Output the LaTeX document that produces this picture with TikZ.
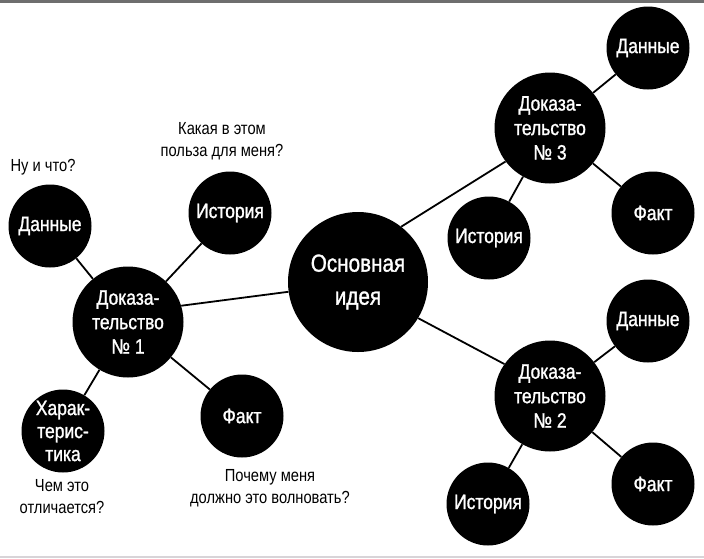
\documentclass[tikz,border=0pt]{standalone}
\usepackage{fontspec}
\setmainfont[FakeStretch=0.84]{Liberation Sans}
\newfontfamily\circfont[FakeStretch=0.84,FakeBold=1.2]{Liberation Sans}
\definecolor{topbar}{HTML}{6E6E6E}
\definecolor{botline}{HTML}{D8D4D8}
\tikzset{
  bigc/.style={circle, fill=black, text=white, minimum size=140pt, inner sep=0pt, align=center, font=\circfont\fontsize{24.6}{33}\selectfont},
  midc/.style={circle, fill=black, text=white, minimum size=111pt, inner sep=0pt, align=center, font=\circfont\fontsize{20.8}{24.5}\selectfont},
  leafc/.style={circle, fill=black, text=white, minimum size=83pt, inner sep=0pt, align=center, font=\circfont\fontsize{20.8}{23}\selectfont},
  lbl/.style={align=center, text=black, inner sep=0pt, font=\fontsize{17.5}{22}\selectfont},
  link/.style={line width=1.8pt, draw=black}
}
\begin{document}
\begin{tikzpicture}[x=1pt, y=-1pt]
\useasboundingbox (0,0) rectangle (704,558);
\fill[topbar] (0,0) rectangle (704,2.5);
\fill[botline] (0,555.5) rectangle (704,558);

% central idea
\node[bigc] (main) at (358,282) {Основная\\идея};

% proof 1
\node[midc] (d1) at (128,322) {Доказа-\\тельство\\№ 1};
\node[leafc] (d1data) at (50,226) {Данные};
\node[leafc] (d1hist) at (230,213) {История};
\node[leafc] (d1char) at (63,431) {Харак-\\терис-\\тика};
\node[leafc] (d1fact) at (242,416) {Факт};

% proof 3
\node[midc] (d3) at (550,128) {Доказа-\\тельство\\№ 3};
\node[leafc] (d3data) at (648,48) {Данные};
\node[leafc] (d3fact) at (653,213) {Факт};
\node[leafc] (d3hist) at (489,238) {История};

% proof 2
\node[midc] (d2) at (550,396) {Доказа-\\тельство\\№ 2};
\node[leafc] (d2data) at (648,321) {Данные};
\node[leafc] (d2fact) at (653,484) {Факт};
\node[leafc] (d2hist) at (488,504) {История};

% questions
\node[lbl] (q1) at (43,167) {Ну и что?};
\node[lbl] (q2) at (222,141) {Какая в этом\\польза для меня?};
\node[lbl] (q3) at (62,497) {Чем это\\отличается?};
\node[lbl] (q4) at (270,488) {Почему меня\\должно это волновать?};

% connectors
\draw[link] (d1.17) -- (main.188);
\draw[link] (main.52) -- (d3.217);
\draw[link] (main.-31) -- (d2.145);
\draw[link] (d1) -- (d1data);
\draw[link] (d1) -- (d1hist);
\draw[link] (d1) -- (d1char);
\draw[link] (d1) -- (d1fact);
\draw[link] (d3) -- (d3data);
\draw[link] (d3) -- (d3fact);
\draw[link] (d3) -- (d3hist);
\draw[link] (d2) -- (d2data);
\draw[link] (d2) -- (d2fact);
\draw[link] (d2) -- (d2hist);
\end{tikzpicture}
\end{document}
